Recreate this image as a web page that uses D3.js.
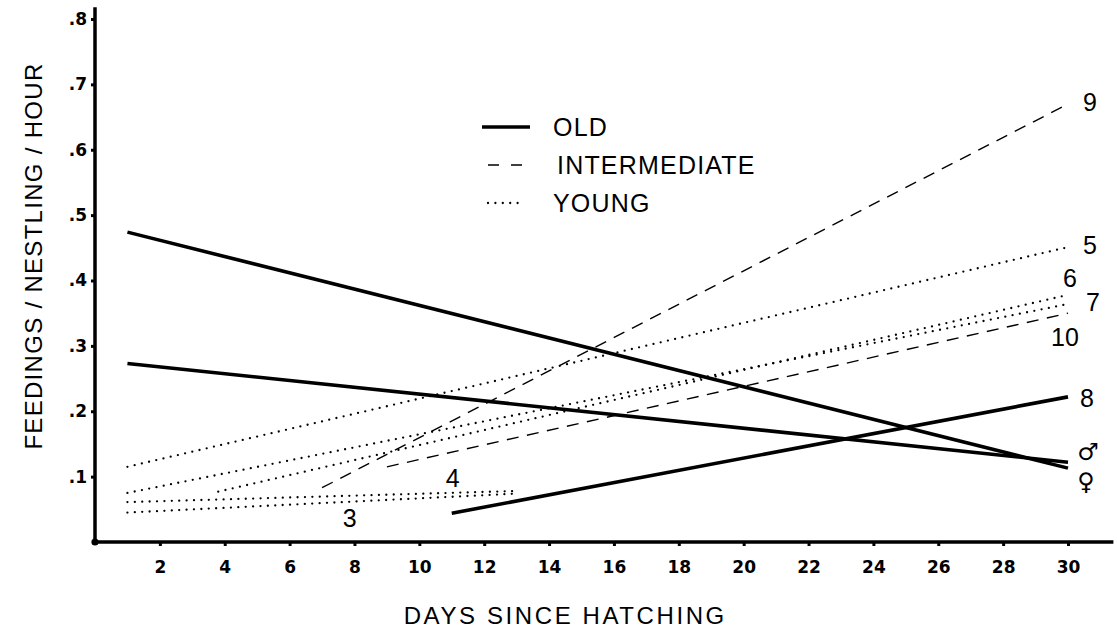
<!DOCTYPE html>
<html>
<head>
<meta charset="utf-8">
<script src="https://cdn.jsdelivr.net/npm/d3@7"></script>
<style>
  html, body { margin: 0; padding: 0; background: #fff; }
  svg { display: block; }
</style>
</head>
<body>
<div id="chart"></div>
<script>
// data -----------------------------------------------------------------------------------
const lineIds    = ['\u2640', '\u2642', '8', '9', '10', '5', '6', '7', '3', '4'];
const lineGroups = ['old', 'old', 'old', 'intermediate', 'intermediate', 'young', 'young', 'young', 'young', 'young'];
const startDays  = [1, 1, 11, 7, 9, 1, 3.8, 1, 1, 1];
const startVals  = [0.474, 0.273, 0.044, 0.083, 0.115, 0.115, 0.077, 0.075, 0.045, 0.061];
const endDays    = [30, 30, 30, 30, 30, 30, 30, 30, 13, 13];
const endVals    = [0.113, 0.122, 0.222, 0.670, 0.350, 0.451, 0.378, 0.364, 0.074, 0.078];
const xTicks = [2, 4, 6, 8, 10, 12, 14, 16, 18, 20, 22, 24, 26, 28, 30];
const yTicks = [0.1, 0.2, 0.3, 0.4, 0.5, 0.6, 0.7, 0.8];
const legendKeys   = ['old', 'intermediate', 'young'];
const legendLabels = ['OLD', 'INTERMEDIATE', 'YOUNG'];

// layout -----------------------------------------------------------------------------------
const width = 1117;
const height = 629;
const x = d3.scaleLinear().domain([0, 30]).range([95, 1068]);
const y = d3.scaleLinear().domain([0, 0.8]).range([542, 19]);
const sans = '"Liberation Sans", Arial, Helvetica, sans-serif';
const tickFont = '"DejaVu Sans", sans-serif';

// line styles by age group
const styles = {
  old:          {width: 3.6, dash: null, cap: 'butt'},
  intermediate: {width: 1.4, dash: '12,8.5', cap: 'butt'},
  young:        {width: 2.3, dash: '0,7.4', cap: 'round'}
};
// where each end label sits relative to the line end
const labelPos = {
  '9': [22, -2], '5': [22, -2], '6': [2, -17], '7': [25, -2], '10': [-3, 24],
  '8': [19, 1], '\u2642': [20, -11], '\u2640': [18, 13], '4': [-64, -13], '3': [-167, 24]
};

const svg = d3.select('#chart').append('svg')
  .attr('width', width)
  .attr('height', height);

// axes --------------------------------------------------------------------------------------
const xAxis = svg.append('g')
  .attr('transform', 'translate(0,' + y(0) + ')')
  .call(d3.axisBottom(x).tickValues(xTicks).tickSize(4).tickSizeOuter(0).tickPadding(15));
xAxis.select('.domain').remove();
xAxis.selectAll('.tick line').attr('stroke', '#000').attr('stroke-width', 3);
xAxis.selectAll('.tick text')
  .attr('font-family', tickFont)
  .attr('font-weight', 'bold')
  .attr('font-size', 17)
  .attr('fill', '#000');

const yAxis = svg.append('g')
  .attr('transform', 'translate(' + x(0) + ',0)')
  .call(d3.axisLeft(y).tickValues(yTicks).tickSize(4).tickSizeOuter(0).tickPadding(4)
    .tickFormat(d => '.' + Math.round(d * 10)));
yAxis.select('.domain').remove();
yAxis.selectAll('.tick line').attr('stroke', '#000').attr('stroke-width', 3);
yAxis.selectAll('.tick text')
  .attr('font-family', tickFont)
  .attr('font-weight', 'bold')
  .attr('font-size', 17)
  .attr('fill', '#000');

// axis lines drawn by hand so they overrun the scale like the original
svg.append('line')
  .attr('x1', x(0) - 1).attr('x2', x(31.4))
  .attr('y1', y(0)).attr('y2', y(0))
  .attr('stroke', '#000').attr('stroke-width', 3.5);
svg.append('line')
  .attr('x1', x(0)).attr('x2', x(0))
  .attr('y1', y(0)).attr('y2', y(0.818))
  .attr('stroke', '#000').attr('stroke-width', 3.5);
svg.append('circle')
  .attr('cx', x(0)).attr('cy', y(0)).attr('r', 3.6)
  .attr('fill', '#000');

// axis titles
svg.append('text')
  .attr('x', x(14.5)).attr('y', 624)
  .attr('text-anchor', 'middle')
  .attr('font-family', sans)
  .attr('font-size', 24)
  .attr('letter-spacing', 2.6)
  .text('DAYS SINCE HATCHING');
svg.append('text')
  .attr('transform', 'translate(42,' + 256 + ') rotate(-90)')
  .attr('text-anchor', 'middle')
  .attr('font-family', sans)
  .attr('font-size', 24)
  .attr('letter-spacing', 1.3)
  .text('FEEDINGS / NESTLING / HOUR');

// regression lines ------------------------------------------------------------------------
const lines = lineIds.map((id, i) => ({
  id: id,
  group: lineGroups[i],
  pts: [[startDays[i], startVals[i]], [endDays[i], endVals[i]]]
}));
const lineGen = d3.line().x(d => x(d[0])).y(d => y(d[1]));

svg.append('g')
  .selectAll('path')
  .data(lines)
  .enter()
  .append('path')
  .attr('d', d => lineGen(d.pts))
  .attr('fill', 'none')
  .attr('stroke', '#000')
  .attr('stroke-width', d => styles[d.group].width)
  .attr('stroke-linecap', d => styles[d.group].cap)
  .attr('stroke-dasharray', d => styles[d.group].dash);

svg.append('g')
  .selectAll('text')
  .data(lines)
  .enter()
  .append('text')
  .attr('x', d => x(d.pts[1][0]) + labelPos[d.id][0])
  .attr('y', d => y(d.pts[1][1]) + labelPos[d.id][1])
  .attr('dy', '0.36em')
  .attr('text-anchor', 'middle')
  .attr('font-family', d => d.group === 'old' && isNaN(+d.id) ? '"DejaVu Sans", sans-serif' : sans)
  .attr('font-size', d => isNaN(+d.id) ? 24 : 25)
  .text(d => d.id);

// legend --------------------------------------------------------------------------------------
const legend = svg.append('g')
  .selectAll('g')
  .data(legendKeys)
  .enter()
  .append('g')
  .attr('transform', (d, i) => 'translate(0,' + (127 + i * 38) + ')');
legend.append('line')
  .attr('x1', d => d === 'old' ? 482 : 488)
  .attr('x2', d => d === 'old' ? 530 : 523)
  .attr('stroke', '#000')
  .attr('stroke-width', d => d === 'old' ? 3.6 : styles[d].width)
  .attr('stroke-linecap', d => styles[d].cap)
  .attr('stroke-dasharray', d => d === 'intermediate' ? '11,12' : styles[d].dash);
legend.append('text')
  .attr('x', (d, i) => i === 1 ? 557 : 553)
  .attr('dy', '0.36em')
  .attr('font-family', sans)
  .attr('font-size', 25)
  .attr('letter-spacing', 1.2)
  .text((d, i) => legendLabels[i]);
</script>
</body>
</html>
